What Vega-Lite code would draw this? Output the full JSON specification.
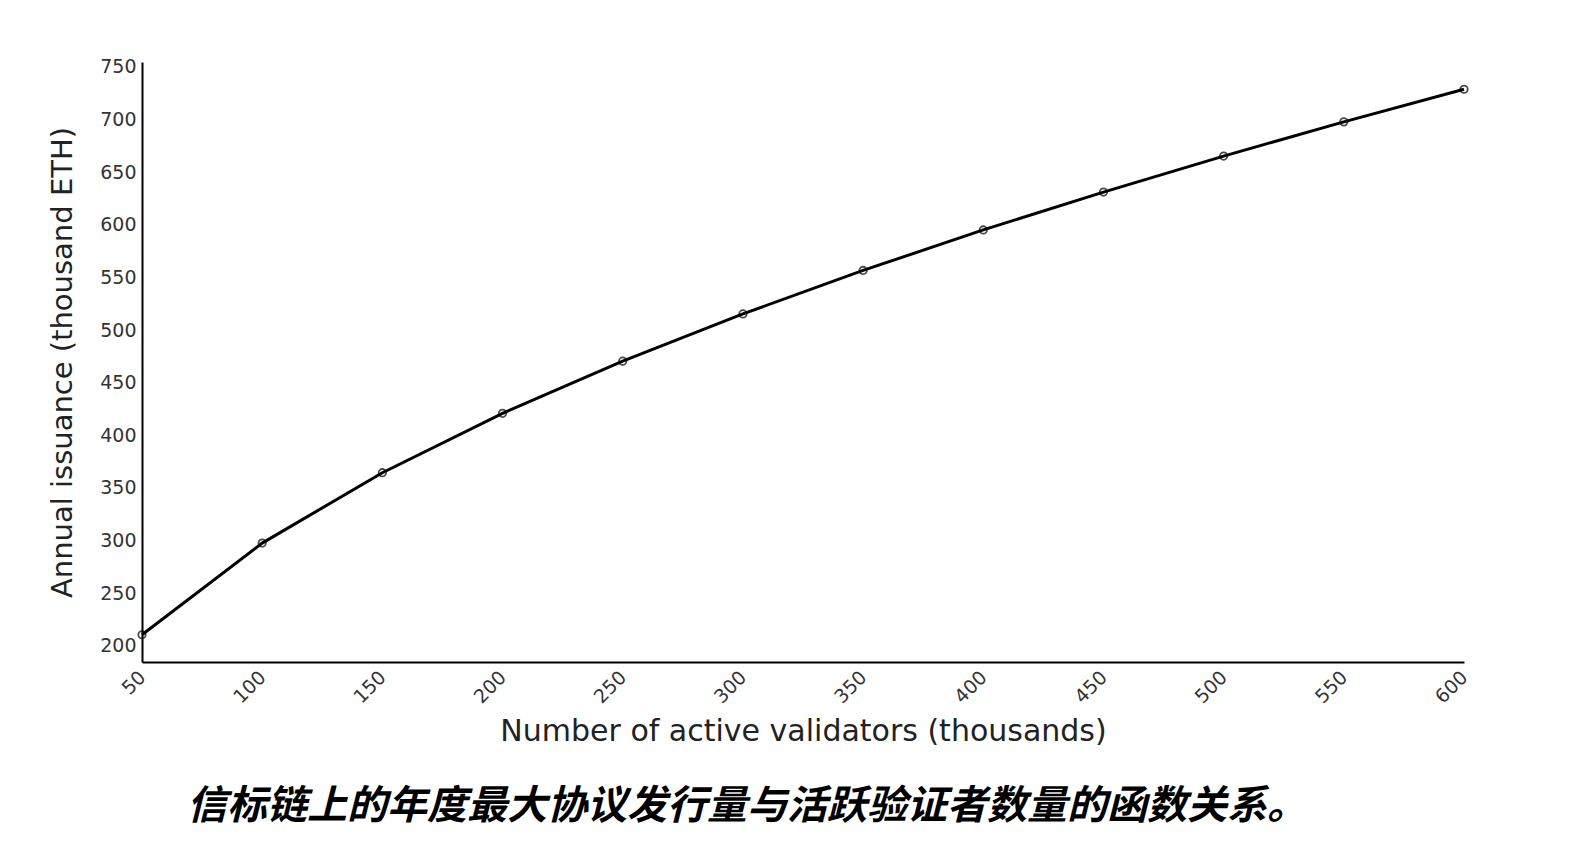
{
  "$schema": "https://vega.github.io/schema/vega-lite/v6.json",
  "width": 1322,
  "height": 600,
  "autosize": "none",
  "padding": {"left": 142, "top": 62, "right": 106, "bottom": 196},
  "background": "white",
  "data": {"values": [
    {"validators": 50, "issuance": 210.4},
    {"validators": 100, "issuance": 297.5},
    {"validators": 150, "issuance": 364.4},
    {"validators": 200, "issuance": 420.8},
    {"validators": 250, "issuance": 470.4},
    {"validators": 300, "issuance": 515.3},
    {"validators": 350, "issuance": 556.6},
    {"validators": 400, "issuance": 595.1},
    {"validators": 450, "issuance": 631.1},
    {"validators": 500, "issuance": 665.3},
    {"validators": 550, "issuance": 697.8},
    {"validators": 600, "issuance": 728.8}
  ]},
  "title": {
    "text": "信标链上的年度最大协议发行量与活跃验证者数量的函数关系。",
    "orient": "bottom",
    "anchor": "middle",
    "offset": 40,
    "dx": -56,
    "font": "Noto Sans CJK SC",
    "fontSize": 40,
    "fontStyle": "italic",
    "fontWeight": "bold",
    "color": "black"
  },
  "config": {
    "view": {"stroke": null},
    "axis": {
      "grid": false,
      "ticks": false,
      "domainColor": "black",
      "domainWidth": 2,
      "labelFont": "DejaVu Sans",
      "labelFontSize": 19,
      "labelColor": "#333",
      "titleFont": "DejaVu Sans",
      "titleFontSize": 30,
      "titleFontWeight": "normal",
      "titleColor": "#222"
    }
  },
  "layer": [
    {
      "mark": {"type": "line", "color": "black", "strokeWidth": 3},
      "encoding": {
        "x": {"field": "validators", "type": "quantitative", "scale": {"domain": [50, 600], "nice": false, "zero": false},
          "axis": {"values": [50,100,150,200,250,300,350,400,450,500,550,600], "labelAngle": -45, "labelAlign": "right", "labelBaseline": "middle", "labelPadding": 12, "title": "Number of active validators (thousands)", "titlePadding": 10}},
        "y": {"field": "issuance", "type": "quantitative", "scale": {"domain": [184.5, 754.7], "nice": false, "zero": false},
          "axis": {"values": [200,250,300,350,400,450,500,550,600,650,700,750], "labelPadding": 6, "title": "Annual issuance (thousand ETH)", "titlePadding": 22, "titleFontSize": 29}}
      }
    },
    {
      "mark": {"type": "point", "shape": "circle", "filled": false, "color": "black", "strokeWidth": 1.8, "size": 55},
      "encoding": {
        "x": {"field": "validators", "type": "quantitative"},
        "y": {"field": "issuance", "type": "quantitative"}
      }
    }
  ]
}
